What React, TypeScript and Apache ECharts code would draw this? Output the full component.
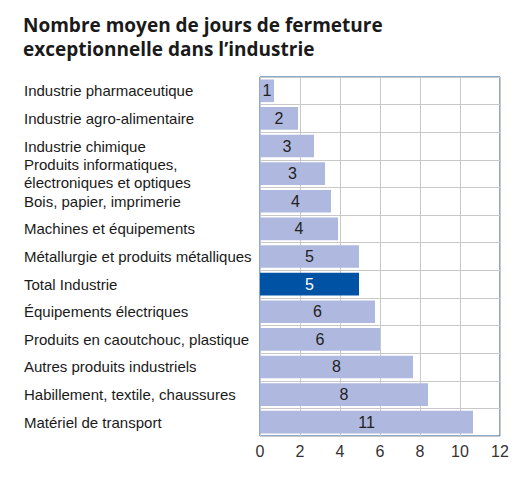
import React, { useEffect, useRef } from 'react';
import * as echarts from 'echarts';

const categories: string[] = [
  'Industrie pharmaceutique',
  'Industrie agro-alimentaire',
  'Industrie chimique',
  'Produits informatiques,\nélectroniques et optiques',
  'Bois, papier, imprimerie',
  'Machines et équipements',
  'Métallurgie et produits métalliques',
  'Total Industrie',
  'Équipements électriques',
  'Produits en caoutchouc, plastique',
  'Autres produits industriels',
  'Habillement, textile, chaussures',
  'Matériel de transport',
];

const values: number[] = [0.7, 1.9, 2.7, 3.25, 3.55, 3.9, 4.95, 4.95, 5.75, 6.0, 7.65, 8.4, 10.65];

const xTicks: number[] = [0, 2, 4, 6, 8, 10, 12];

const highlight = 'Total Industrie';

const App: React.FC = () => {
  const chartRef = useRef<HTMLDivElement | null>(null);

  useEffect(() => {
    document.body.style.margin = '0';
    if (!chartRef.current) return;
    const myChart = echarts.init(chartRef.current, null, { renderer: 'svg' });

    const option = {
      animation: false,
      title: {
        text: 'Nombre moyen de jours de fermeture\nexceptionnelle dans l’industrie',
        left: 23,
        top: 13,
        padding: 0,
        textStyle: {
          fontFamily: 'Open Sans',
          fontWeight: 'bold',
          fontSize: 19,
          lineHeight: 24,
          color: '#1a1a1a',
        },
      },
      grid: {
        left: 260,
        top: 77,
        width: 240,
        height: 359,
        show: true,
        borderColor: '#1f55a0',
        borderWidth: 1,
        backgroundColor: 'transparent',
      },
      xAxis: {
        type: 'value',
        min: xTicks[0],
        max: xTicks[xTicks.length - 1],
        interval: 2,
        axisLine: { show: false },
        axisTick: { show: false },
        splitLine: { show: true, lineStyle: { color: '#c8c8c8', width: 1 } },
        axisLabel: {
          margin: 7,
          fontFamily: 'Liberation Sans',
          fontSize: 16,
          color: '#333',
        },
      },
      yAxis: {
        type: 'category',
        inverse: true,
        data: categories,
        axisLine: { show: false },
        axisTick: { show: false },
        splitLine: { show: true, lineStyle: { color: '#c8c8c8', width: 1 } },
        axisLabel: {
          align: 'left',
          margin: 236,
          fontFamily: 'Liberation Sans',
          fontSize: 15,
          lineHeight: 18,
          color: '#1a1a1a',
          padding: [3, 0, 0, 0],
        },
      },
      series: [
        {
          type: 'bar',
          barCategoryGap: '18%',
          data: values.map((v, i) => ({
            value: v,
            itemStyle: { color: categories[i] === highlight ? '#0052a5' : '#afb8de' },
            label: { color: categories[i] === highlight ? '#ffffff' : '#222222' },
          })),
          label: {
            show: true,
            position: 'inside',
            fontFamily: 'Liberation Sans',
            fontSize: 16,
            formatter: (p: any) => String(Math.round(p.value)),
          },
        },
      ],
    };

    myChart.setOption(option);
    return () => {
      myChart.dispose();
    };
  }, []);

  return <div ref={chartRef} style={{ width: '525px', height: '501px' }} />;
};

export default App;
